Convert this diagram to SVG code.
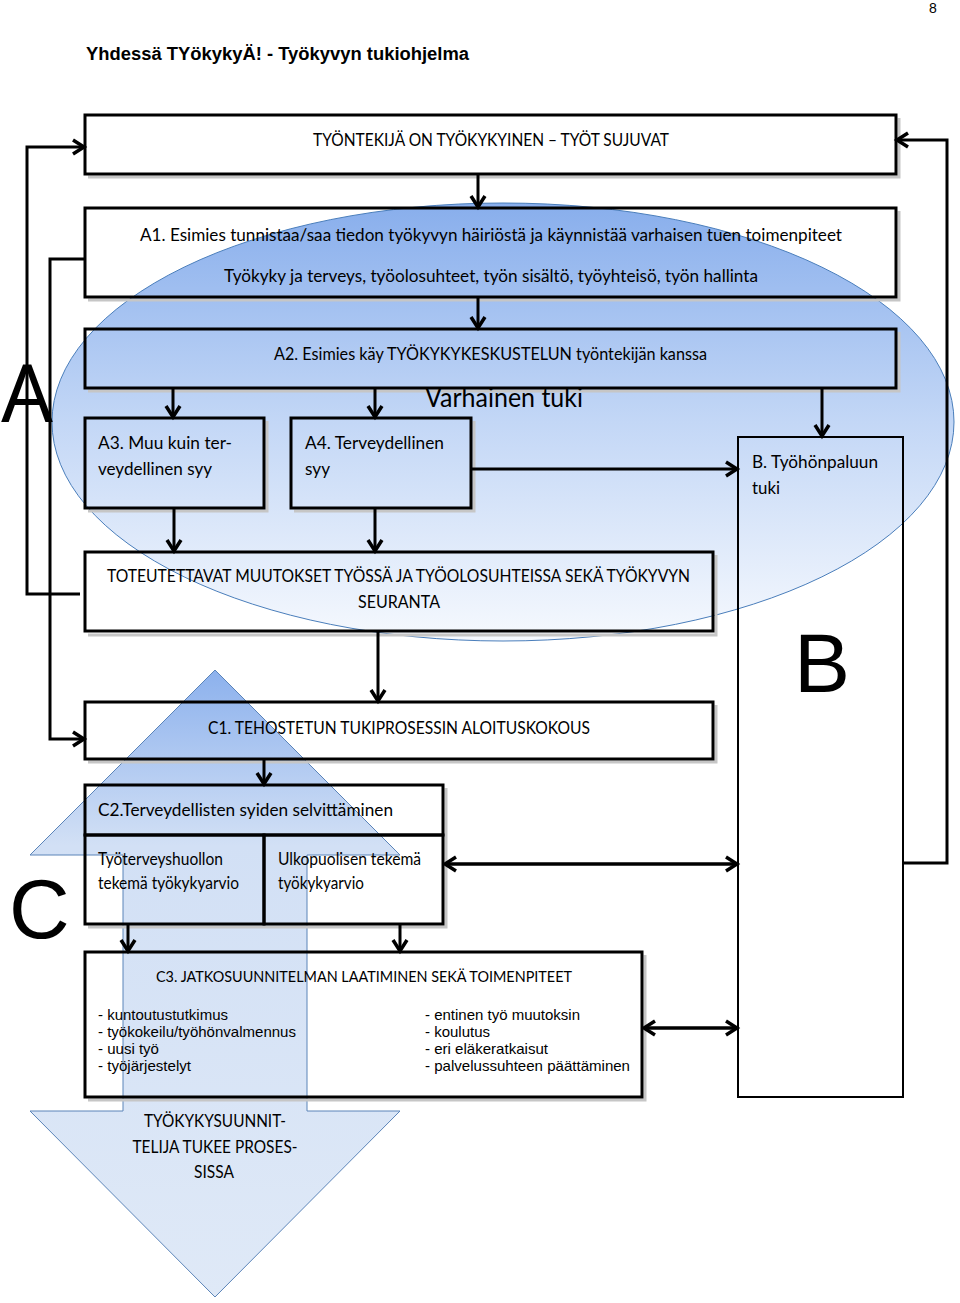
<svg xmlns="http://www.w3.org/2000/svg" width="960" height="1303" viewBox="0 0 960 1303">
<defs>
<linearGradient id="gEll" x1="0" y1="0" x2="0" y2="1">
<stop offset="0" stop-color="#88aeec"/>
<stop offset="0.5" stop-color="#c3d7f6"/>
<stop offset="1" stop-color="#f6f9fe"/>
</linearGradient>
<linearGradient id="gArr" gradientUnits="userSpaceOnUse" x1="0" y1="670" x2="0" y2="1297">
<stop offset="0" stop-color="#8cb1ed"/>
<stop offset="0.28" stop-color="#d2e0f5"/>
<stop offset="1" stop-color="#dfe9f7"/>
</linearGradient>
<marker id="ah" markerUnits="userSpaceOnUse" markerWidth="22" markerHeight="22" viewBox="0 0 22 22" refX="17" refY="11" orient="auto-start-reverse">
<path d="M6,4 L17,11 L6,18" fill="none" stroke="#000" stroke-width="3.5"/>
</marker>
</defs>
<style>
.box{fill:none;stroke:#000;stroke-width:3}
.thin{fill:none;stroke:#000;stroke-width:2}
.sh{fill:none;stroke:#c6c6c6;stroke-width:3}
.c{fill:none;stroke:#000;stroke-width:3}
.ca{fill:none;stroke:#000;stroke-width:3;marker-end:url(#ah)}
.cd{fill:none;stroke:#000;stroke-width:3.5;marker-start:url(#ah);marker-end:url(#ah)}
.t{font-family:Lato,"Open Sans",sans-serif;font-size:17px;fill:#000}
.l{font-family:"Liberation Sans",Arial,sans-serif;font-size:14.5px;fill:#000}
.big{font-family:"Liberation Sans",Arial,sans-serif;font-size:84px;fill:#000}
</style>
<rect width="960" height="1303" fill="#fff"/>

<text x="929" y="13" font-family="Liberation Sans, Arial, sans-serif" font-size="14">8</text>
<text x="86" y="60" font-family="Liberation Sans, Arial, sans-serif" font-size="18" font-weight="bold" textLength="383" lengthAdjust="spacingAndGlyphs">Yhdessä TYökykyÄ! - Työkyvyn tukiohjelma</text>

<g id="bg-shapes">
<ellipse id="varhainen-tuki-area" cx="503" cy="422" rx="451" ry="219" fill="url(#gEll)" stroke="#4a7ebb" stroke-width="1"/>
<polygon id="tyokykysuunnittelija-arrow" points="215,670 400,855 307,855 307,1111 400,1111 215,1297 30,1111 123,1111 123,855 30,855" fill="url(#gArr)" stroke="#5b84b8" stroke-width="1"/>
</g>

<g id="shadows">
<polyline class="sh" points="88,177 899,177 899,118"/>
<polyline class="sh" points="88,300 899,300 899,211"/>
<polyline class="sh" points="88,391 899,391 899,332"/>
<polyline class="sh" points="88,511 267,511 267,421"/>
<polyline class="sh" points="294,511 474,511 474,421"/>
<polyline class="sh" points="88,635 716,635 716,555"/>
<polyline class="sh" points="88,762 716,762 716,705"/>
<polyline class="sh" points="88,927 446,927 446,788"/>
<polyline class="sh" points="88,1100 645,1100 645,955"/>
</g>

<g id="letters">
<text class="big" x="1" y="422" textLength="52" lengthAdjust="spacingAndGlyphs">A</text>
<text class="big" x="794" y="692">B</text>
<text class="big" x="9" y="938">C</text>
</g>

<g id="n-top">
<rect class="box" x="85" y="115" width="811" height="59"/>
<text class="t" x="313" y="146" textLength="356" lengthAdjust="spacingAndGlyphs">TYÖNTEKIJÄ ON TYÖKYKYINEN – TYÖT SUJUVAT</text>
</g>
<g id="n-a1">
<rect class="box" x="85" y="208" width="811" height="89"/>
<text class="t" x="140" y="241" textLength="702" lengthAdjust="spacingAndGlyphs">A1. Esimies tunnistaa/saa tiedon työkyvyn häiriöstä ja käynnistää varhaisen tuen toimenpiteet</text>
<text class="t" x="224" y="282" textLength="534" lengthAdjust="spacingAndGlyphs">Työkyky ja terveys, työolosuhteet, työn sisältö, työyhteisö, työn hallinta</text>
</g>
<g id="n-a2">
<rect class="box" x="85" y="329" width="811" height="59"/>
<text class="t" x="274" y="360" textLength="433" lengthAdjust="spacingAndGlyphs">A2. Esimies käy TYÖKYKYKESKUSTELUN työntekijän kanssa</text>
</g>
<g id="n-varhainen">
<text class="t" x="425" y="407" style="font-size:26px" textLength="158" lengthAdjust="spacingAndGlyphs">Varhainen tuki</text>
</g>
<g id="n-a3">
<rect class="box" x="85" y="418" width="179" height="90"/>
<text class="t" x="98" y="449" textLength="134" lengthAdjust="spacingAndGlyphs">A3. Muu kuin ter-</text>
<text class="t" x="98" y="475" textLength="114" lengthAdjust="spacingAndGlyphs">veydellinen syy</text>
</g>
<g id="n-a4">
<rect class="box" x="291" y="418" width="180" height="90"/>
<text class="t" x="305" y="449" textLength="139" lengthAdjust="spacingAndGlyphs">A4. Terveydellinen</text>
<text class="t" x="305" y="475" textLength="25" lengthAdjust="spacingAndGlyphs">syy</text>
</g>
<g id="n-b">
<rect class="thin" x="738" y="437" width="165" height="660"/>
<text class="t" x="752" y="468" textLength="126" lengthAdjust="spacingAndGlyphs">B. Työhönpaluun</text>
<text class="t" x="752" y="494" textLength="28" lengthAdjust="spacingAndGlyphs">tuki</text>
</g>
<g id="n-toteutettavat">
<rect class="box" x="85" y="552" width="628" height="79"/>
<text class="t" x="107" y="582" textLength="583" lengthAdjust="spacingAndGlyphs">TOTEUTETTAVAT MUUTOKSET TYÖSSÄ JA TYÖOLOSUHTEISSA SEKÄ TYÖKYVYN</text>
<text class="t" x="358" y="608" textLength="82" lengthAdjust="spacingAndGlyphs">SEURANTA</text>
</g>
<g id="n-c1">
<rect class="box" x="85" y="702" width="628" height="57"/>
<text class="t" x="208" y="734" textLength="382" lengthAdjust="spacingAndGlyphs">C1. TEHOSTETUN TUKIPROSESSIN ALOITUSKOKOUS</text>
</g>
<g id="n-c2">
<rect class="box" x="85" y="785" width="358" height="50"/>
<text class="t" x="98" y="816" textLength="295" lengthAdjust="spacingAndGlyphs">C2.Terveydellisten syiden selvittäminen</text>
</g>
<g id="n-tth">
<rect class="box" x="85" y="835" width="179" height="89"/>
<text class="t" x="98" y="865" textLength="125" lengthAdjust="spacingAndGlyphs">Työterveyshuollon</text>
<text class="t" x="98" y="889" textLength="141" lengthAdjust="spacingAndGlyphs">tekemä työkykyarvio</text>
</g>
<g id="n-ulko">
<rect class="box" x="264" y="835" width="179" height="89"/>
<text class="t" x="278" y="865" textLength="143" lengthAdjust="spacingAndGlyphs">Ulkopuolisen tekemä</text>
<text class="t" x="278" y="889" textLength="86" lengthAdjust="spacingAndGlyphs">työkykyarvio</text>
</g>
<g id="n-c3">
<rect class="box" x="85" y="952" width="557" height="145"/>
<text class="t" x="156" y="982" style="font-size:16px" textLength="416" lengthAdjust="spacingAndGlyphs">C3. JATKOSUUNNITELMAN LAATIMINEN SEKÄ TOIMENPITEET</text>
<text class="l" x="98" y="1020" textLength="130" lengthAdjust="spacingAndGlyphs">- kuntoutustutkimus</text>
<text class="l" x="98" y="1037" textLength="198" lengthAdjust="spacingAndGlyphs">- työkokeilu/työhönvalmennus</text>
<text class="l" x="98" y="1054" textLength="61" lengthAdjust="spacingAndGlyphs">- uusi työ</text>
<text class="l" x="98" y="1071" textLength="93" lengthAdjust="spacingAndGlyphs">- työjärjestelyt</text>
<text class="l" x="425" y="1020" textLength="155" lengthAdjust="spacingAndGlyphs">- entinen työ muutoksin</text>
<text class="l" x="425" y="1037" textLength="65" lengthAdjust="spacingAndGlyphs">- koulutus</text>
<text class="l" x="425" y="1054" textLength="123" lengthAdjust="spacingAndGlyphs">- eri eläkeratkaisut</text>
<text class="l" x="425" y="1071" textLength="205" lengthAdjust="spacingAndGlyphs">- palvelussuhteen päättäminen</text>
</g>
<g id="n-suunnittelija">
<text class="t" x="215" y="1127" text-anchor="middle" textLength="142" lengthAdjust="spacingAndGlyphs">TYÖKYKYSUUNNIT-</text>
<text class="t" x="215" y="1153" text-anchor="middle" textLength="165" lengthAdjust="spacingAndGlyphs">TELIJA TUKEE PROSES-</text>
<text class="t" x="214" y="1178" text-anchor="middle" textLength="40" lengthAdjust="spacingAndGlyphs">SISSA</text>
</g>

<g id="connectors">
<line class="ca" x1="478" y1="174" x2="478" y2="207"/>
<line class="ca" x1="478" y1="297" x2="478" y2="328"/>
<line class="ca" x1="173" y1="388" x2="173" y2="417"/>
<line class="ca" x1="375" y1="388" x2="375" y2="417"/>
<line class="ca" x1="822" y1="388" x2="822" y2="436"/>
<line class="ca" x1="471" y1="469" x2="737" y2="469"/>
<line class="ca" x1="174" y1="508" x2="174" y2="551"/>
<line class="ca" x1="375" y1="508" x2="375" y2="551"/>
<line class="ca" x1="378" y1="631" x2="378" y2="701"/>
<line class="ca" x1="264" y1="759" x2="264" y2="784"/>
<line class="ca" x1="128" y1="924" x2="128" y2="951"/>
<line class="ca" x1="400" y1="924" x2="400" y2="951"/>
<line class="cd" x1="445" y1="864" x2="737" y2="864"/>
<line class="cd" x1="644" y1="1028" x2="737" y2="1028"/>
<polyline class="ca" stroke-width="3.5" points="80,594 27,594 27,147 84,147"/>
<polyline class="ca" stroke-width="3.5" points="85,259 50,259 50,739 84,739"/>
<polyline class="ca" stroke-width="5" points="903,863 947,863 947,140 897,140"/>
</g>
</svg>
